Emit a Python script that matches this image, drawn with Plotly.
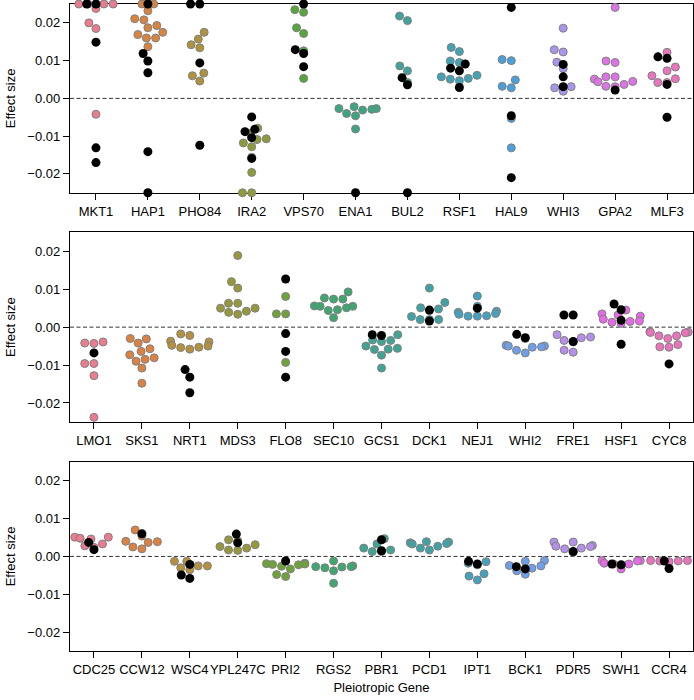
import math
import colorsys
import plotly.graph_objects as go

# ---------------- data ----------------
P1_GENES = ["MKT1", "HAP1", "PHO84", "IRA2", "VPS70", "ENA1", "BUL2", "RSF1", "HAL9", "WHI3", "GPA2", "MLF3"]
P1_COLORED = [
    [0.025, 0.025, 0.025, 0.025, 0.0238, 0.0200, 0.0185, -0.0042],
    [0.025, 0.025, 0.0232, 0.0211, 0.0208, 0.0193, 0.0187, 0.0175, 0.0169, 0.0160, 0.0160, 0.0137],
    [0.0175, 0.0157, 0.0142, 0.0134, 0.0067, 0.0060, 0.0046],
    [-0.0079, -0.0093, -0.0107, -0.0109, -0.0118, -0.0128, -0.0156, -0.0196, -0.025, -0.025],
    [0.0235, 0.0228, 0.0187, 0.0172, 0.0126, 0.0053],
    [-0.0022, -0.0027, -0.0027, -0.0029, -0.0031, -0.0040, -0.0046, -0.0081],
    [0.0218, 0.0206, 0.0086, 0.0073, 0.0042],
    [0.0135, 0.0124, 0.0099, 0.0095, 0.0061, 0.0057, 0.0053, 0.0051, 0.0047],
    [0.0103, 0.0100, 0.0049, 0.0032, 0.0028, -0.0053, -0.0131],
    [0.0186, 0.0129, 0.0123, 0.0096, 0.0079, 0.0031, 0.0028, 0.0019],
    [0.0241, 0.0099, 0.0095, 0.0057, 0.0057, 0.0051, 0.0045, 0.0044, 0.0037, 0.0032, 0.0031],
    [0.0122, 0.0083, 0.0073, 0.0060, 0.0052, 0.0042, 0.0042],
]
P1_BLACK = [
    [0.025, 0.025, 0.0149, -0.0131, -0.0170],
    [0.025, 0.0119, 0.0099, 0.0068, -0.0141, -0.025],
    [0.025, 0.025, 0.0094, -0.0124],
    [-0.0049, -0.0082, -0.0088, -0.0104, -0.0159],
    [0.025, 0.0129, 0.0119, 0.0084],
    [-0.025],
    [0.0055, 0.0036, -0.025],
    [0.0091, 0.0080, 0.0073, 0.0029],
    [0.0241, -0.0046, -0.0210],
    [0.0090, 0.0057, 0.0031],
    [0.0022],
    [0.0110, 0.0106, 0.0037, -0.0050],
]

P2_GENES = ["LMO1", "SKS1", "NRT1", "MDS3", "FLO8", "SEC10", "GCS1", "DCK1", "NEJ1", "WHI2", "FRE1", "HSF1", "CYC8"]
P2_COLORED = [
    [-0.0039, -0.0042, -0.0043, -0.0096, -0.0096, -0.0128, -0.0238],
    [-0.0030, -0.0031, -0.0042, -0.0057, -0.0064, -0.0073, -0.0081, -0.0085, -0.0090, -0.0108, -0.0148],
    [-0.0018, -0.0022, -0.0037, -0.0039, -0.0048, -0.0050, -0.0053, -0.0054, -0.0058],
    [0.0189, 0.0120, 0.0103, 0.0063, 0.0063, 0.0050, 0.0050, 0.0042, 0.0039, 0.0034],
    [0.0081, 0.0035, 0.0035, -0.0093],
    [0.0093, 0.0077, 0.0074, 0.0074, 0.0056, 0.0055, 0.0055, 0.0051, 0.0046, 0.0044, 0.0025],
    [-0.0020, -0.0034, -0.0035, -0.0038, -0.0050, -0.0056, -0.0058, -0.0059, -0.0074, -0.0108],
    [0.0103, 0.0065, 0.0051, 0.0048, 0.0044, 0.0028, 0.0020, 0.0020, 0.0020],
    [0.0082, 0.0055, 0.0042, 0.0039, 0.0036, 0.0034, 0.0030, 0.0029, 0.0029],
    [-0.0030, -0.0048, -0.0050, -0.0050, -0.0052, -0.0053, -0.0061, -0.0068],
    [-0.0020, -0.0026, -0.0028, -0.0035, -0.0039, -0.0061, -0.0066],
    [0.0045, 0.0035, 0.0032, 0.0029, 0.0021, 0.0016, 0.0015, 0.0013, 0.0010],
    [-0.0012, -0.0013, -0.0014, -0.0015, -0.0023, -0.0023, -0.0030, -0.0046, -0.0052, -0.0053],
]
P2_BLACK = [
    [-0.0068],
    [],
    [-0.0112, -0.0132, -0.0173],
    [],
    [0.0127, -0.0017, -0.0064, -0.0132],
    [],
    [-0.0020, -0.0022],
    [0.0045, 0.0016],
    [0.0050],
    [-0.0019, -0.0028],
    [0.0032, 0.0032, -0.0038],
    [0.0061, 0.0046, 0.0018, -0.0045],
    [-0.0097],
]

P3_GENES = ["CDC25", "CCW12", "WSC4", "YPL247C", "PRI2", "RGS2", "PBR1", "PCD1", "IPT1", "BCK1", "PDR5", "SWH1", "CCR4"]
P3_COLORED = [
    [0.0051, 0.0051, 0.0048, 0.0046, 0.0033, 0.0028, 0.0024],
    [0.0070, 0.0054, 0.0040, 0.0039, 0.0037, 0.0025, 0.0020],
    [-0.0013, -0.0013, -0.0025, -0.0025, -0.0030, -0.0035],
    [0.0044, 0.0041, 0.0031, 0.0026, 0.0022, 0.0017, 0.0016],
    [-0.0018, -0.0019, -0.0020, -0.0021, -0.0022, -0.0026, -0.0033, -0.0048, -0.0053],
    [-0.0012, -0.0025, -0.0027, -0.0027, -0.0028, -0.0030, -0.0038, -0.0071],
    [0.0047, 0.0033, 0.0022, 0.0017, 0.0013, 0.0013],
    [0.0039, 0.0038, 0.0036, 0.0034, 0.0033, 0.0027, 0.0022, 0.0017],
    [-0.0014, -0.0018, -0.0022, -0.0046, -0.0052, -0.0062],
    [-0.0011, -0.0013, -0.0024, -0.0025, -0.0031, -0.0038, -0.0047],
    [0.0038, 0.0038, 0.0029, 0.0027, 0.0026, 0.0022, 0.0020, 0.0011],
    [-0.0011, -0.0011, -0.0012, -0.0018, -0.0020, -0.0020, -0.0033],
    [-0.0011, -0.0011, -0.0012, -0.0012, -0.0014],
]
P3_BLACK = [
    [0.0037, 0.0018],
    [0.0060],
    [-0.0021, -0.0049, -0.0058],
    [0.0059, 0.0036],
    [-0.0012],
    [],
    [0.0044, 0.0015],
    [],
    [-0.0013, -0.0020],
    [-0.0027, -0.0033],
    [0.0013],
    [-0.0020, -0.0022],
    [-0.0012, -0.0032],
]

Y_TICKVALS = [-0.02, -0.01, 0.0, 0.01, 0.02]
Y_TICKTEXT = ["\u22120.02", "\u22120.01", "0.00", "0.01", "0.02"]
Y_RANGE = [-0.025, 0.025]

# ---------------- husl palette (as seaborn) ----------------
_M = [[3.2406, -1.5372, -0.4986], [-0.9689, 1.8758, 0.0415], [0.0557, -0.2040, 1.0570]]
_REF_U, _REF_V = 0.19784, 0.46834
_LAB_E, _LAB_K = 0.008856, 903.3


def _max_chroma(L, H):
    hrad = math.radians(H)
    sinH, cosH = math.sin(hrad), math.cos(hrad)
    sub1 = (L + 16) ** 3 / 1560896.0
    sub2 = sub1 if sub1 > _LAB_E else L / _LAB_K
    result = float("inf")
    for m1, m2, m3 in _M:
        top = (0.99915 * m1 + 1.05122 * m2 + 1.14460 * m3) * sub2
        rbottom = 0.86330 * m3 - 0.17266 * m2
        lbottom = 0.12949 * m3 - 0.38848 * m1
        bottom = (rbottom * sinH + lbottom * cosH) * sub2
        for t in (0.0, 1.0):
            C = L * (top - 1.05122 * t) / (bottom + 0.17266 * sinH * t)
            if 0.0 < C < result:
                result = C
    return result


def _f_inv(t):
    return t ** 3 if t ** 3 > _LAB_E else (116.0 * t - 16.0) / _LAB_K


def _from_linear(c):
    return 12.92 * c if c <= 0.0031308 else 1.055 * c ** (1 / 2.4) - 0.055


def husl_to_rgb(H, S, L):
    C = _max_chroma(L, H) / 100.0 * S
    hrad = math.radians(H)
    U, V = math.cos(hrad) * C, math.sin(hrad) * C
    varY = _f_inv((L + 16.0) / 116.0)
    varU = U / (13.0 * L) + _REF_U
    varV = V / (13.0 * L) + _REF_V
    Y = varY
    X = -(9.0 * Y * varU) / ((varU - 4.0) * varV - varU * varV)
    Z = (9.0 * Y - 15.0 * varV * Y - varV * X) / (3.0 * varV)
    rgb = [_from_linear(r[0] * X + r[1] * Y + r[2] * Z) for r in _M]
    return [min(1, max(0, v)) for v in rgb]


def palette(n, desat=0.83):
    out = []
    for k in range(n):
        h = ((k / n) + 0.01) % 1 * 359
        r, g, b = husl_to_rgb(h, 0.9 * 99, 0.65 * 99)
        hh, ll, ss = colorsys.rgb_to_hls(r, g, b)
        r, g, b = colorsys.hls_to_rgb(hh, ll, ss * desat)
        out.append("rgb(%d,%d,%d)" % (round(r * 255), round(g * 255), round(b * 255)))
    return out


# ---------------- swarm layout (seaborn-like) ----------------
def swarm(values, d, ppx_y, ppx_x, half_width):
    n = len(values)
    order = sorted(range(n), key=lambda i: values[i])
    placed = []
    for i in order:
        y = values[i] * ppx_y
        if not placed:
            placed.append((0.0, y))
            continue
        nb = [(xj, yj) for xj, yj in placed if abs(y - yj) < d]
        cands = [0.0]
        left_first = True
        for xj, yj in nb:
            dx = math.sqrt(max(d * d - (y - yj) ** 2, 0)) * 1.05
            pair = [xj - dx, xj + dx] if left_first else [xj + dx, xj - dx]
            cands.extend(pair)
            left_first = not left_first
        cands.sort(key=abs)
        chosen = cands[-1]
        for c in cands:
            if all((c - xj) ** 2 + (y - yj) ** 2 >= d * d - 1e-6 for xj, yj in nb):
                chosen = c
                break
        placed.append((chosen, y))
    offs = [0.0] * n
    for k, i in enumerate(order):
        o = placed[k][0] / ppx_x
        offs[i] = max(-half_width, min(half_width, o))
    return offs


# ---------------- figure ----------------
W, H = 694, 700
ML, MR, MT, MB = 70, 1, 4, 49
plot_w = W - ML - MR
plot_h = H - MT - MB
DOMAINS = [[0.7082, 1.0], [0.3541, 0.6470], [0.0, 0.2923]]
D = 8.8  # marker diameter in px used for swarm
FONT = "Liberation Sans, Arial, sans-serif"

panels = [(P1_GENES, P1_COLORED, P1_BLACK), (P2_GENES, P2_COLORED, P2_BLACK), (P3_GENES, P3_COLORED, P3_BLACK)]

fig = go.Figure()
layout_axes = {}
shapes = []
for p, (genes, colored, black) in enumerate(panels):
    n = len(genes)
    ppx_x = plot_w / n
    dom = DOMAINS[p]
    ppx_y = plot_h * (dom[1] - dom[0]) / (Y_RANGE[1] - Y_RANGE[0])
    cols = palette(n)
    xs, ys, cs = [], [], []
    bx, by = [], []
    for i in range(n):
        offs = swarm(colored[i], D, ppx_y, ppx_x, 0.4)
        for v, o in zip(colored[i], offs):
            xs.append(i + o)
            ys.append(v)
            cs.append(cols[i])
        offs = swarm(black[i], D, ppx_y, ppx_x, 0.4)
        for v, o in zip(black[i], offs):
            bx.append(i + o)
            by.append(v)
    sfx = "" if p == 0 else str(p + 1)
    fig.add_trace(go.Scatter(
        x=xs, y=ys, mode="markers", xaxis="x" + sfx, yaxis="y" + sfx, cliponaxis=False,
        marker=dict(size=8, color=cs, line=dict(color="#808080", width=1)),
        showlegend=False, hoverinfo="skip"))
    fig.add_trace(go.Scatter(
        x=bx, y=by, mode="markers", xaxis="x" + sfx, yaxis="y" + sfx, cliponaxis=False,
        marker=dict(size=9, color="black", line=dict(width=0)),
        showlegend=False, hoverinfo="skip"))
    xa = dict(
        domain=[0, 1], anchor="y" + sfx, range=[-0.5, n - 0.5],
        tickmode="array", tickvals=list(range(n)), ticktext=genes, tickangle=0,
        showline=True, linecolor="black", linewidth=1.3, mirror=True,
        ticks="outside", ticklen=6, tickwidth=1.3, tickcolor="black",
        showgrid=False, zeroline=False, layer="below traces",
        tickfont=dict(size=13, color="black", family=FONT),
    )
    if p == 2:
        xa["title"] = dict(text="Pleiotropic Gene", standoff=7, font=dict(size=13, color="black", family=FONT))
    ya = dict(
        domain=dom, anchor="x" + sfx, range=Y_RANGE,
        tickmode="array", tickvals=Y_TICKVALS, ticktext=Y_TICKTEXT,
        showline=True, linecolor="black", linewidth=1.3, mirror=True,
        ticks="outside", ticklen=6, tickwidth=1.3, tickcolor="black",
        showgrid=False, zeroline=False, layer="below traces",
        tickfont=dict(size=13, color="black", family=FONT),
        title=dict(text="Effect size", standoff=8, font=dict(size=13, color="black", family=FONT)),
    )
    layout_axes["xaxis" + sfx] = xa
    layout_axes["yaxis" + sfx] = ya
    shapes.append(dict(type="line", xref="x" + sfx + " domain", yref="y" + sfx,
                       x0=0, x1=1, y0=0, y1=0, layer="below",
                       line=dict(color="#333333", width=1, dash="4px,2.5px")))

fig.update_layout(
    width=W, height=H, margin=dict(l=ML, r=MR, t=MT, b=MB, autoexpand=False),
    plot_bgcolor="white", paper_bgcolor="white",
    font=dict(family=FONT, size=13, color="black"),
    shapes=shapes, **layout_axes,
)
fig.write_html("out.html", config={"displayModeBar": False},
               post_script="document.body.style.margin='0px';")
